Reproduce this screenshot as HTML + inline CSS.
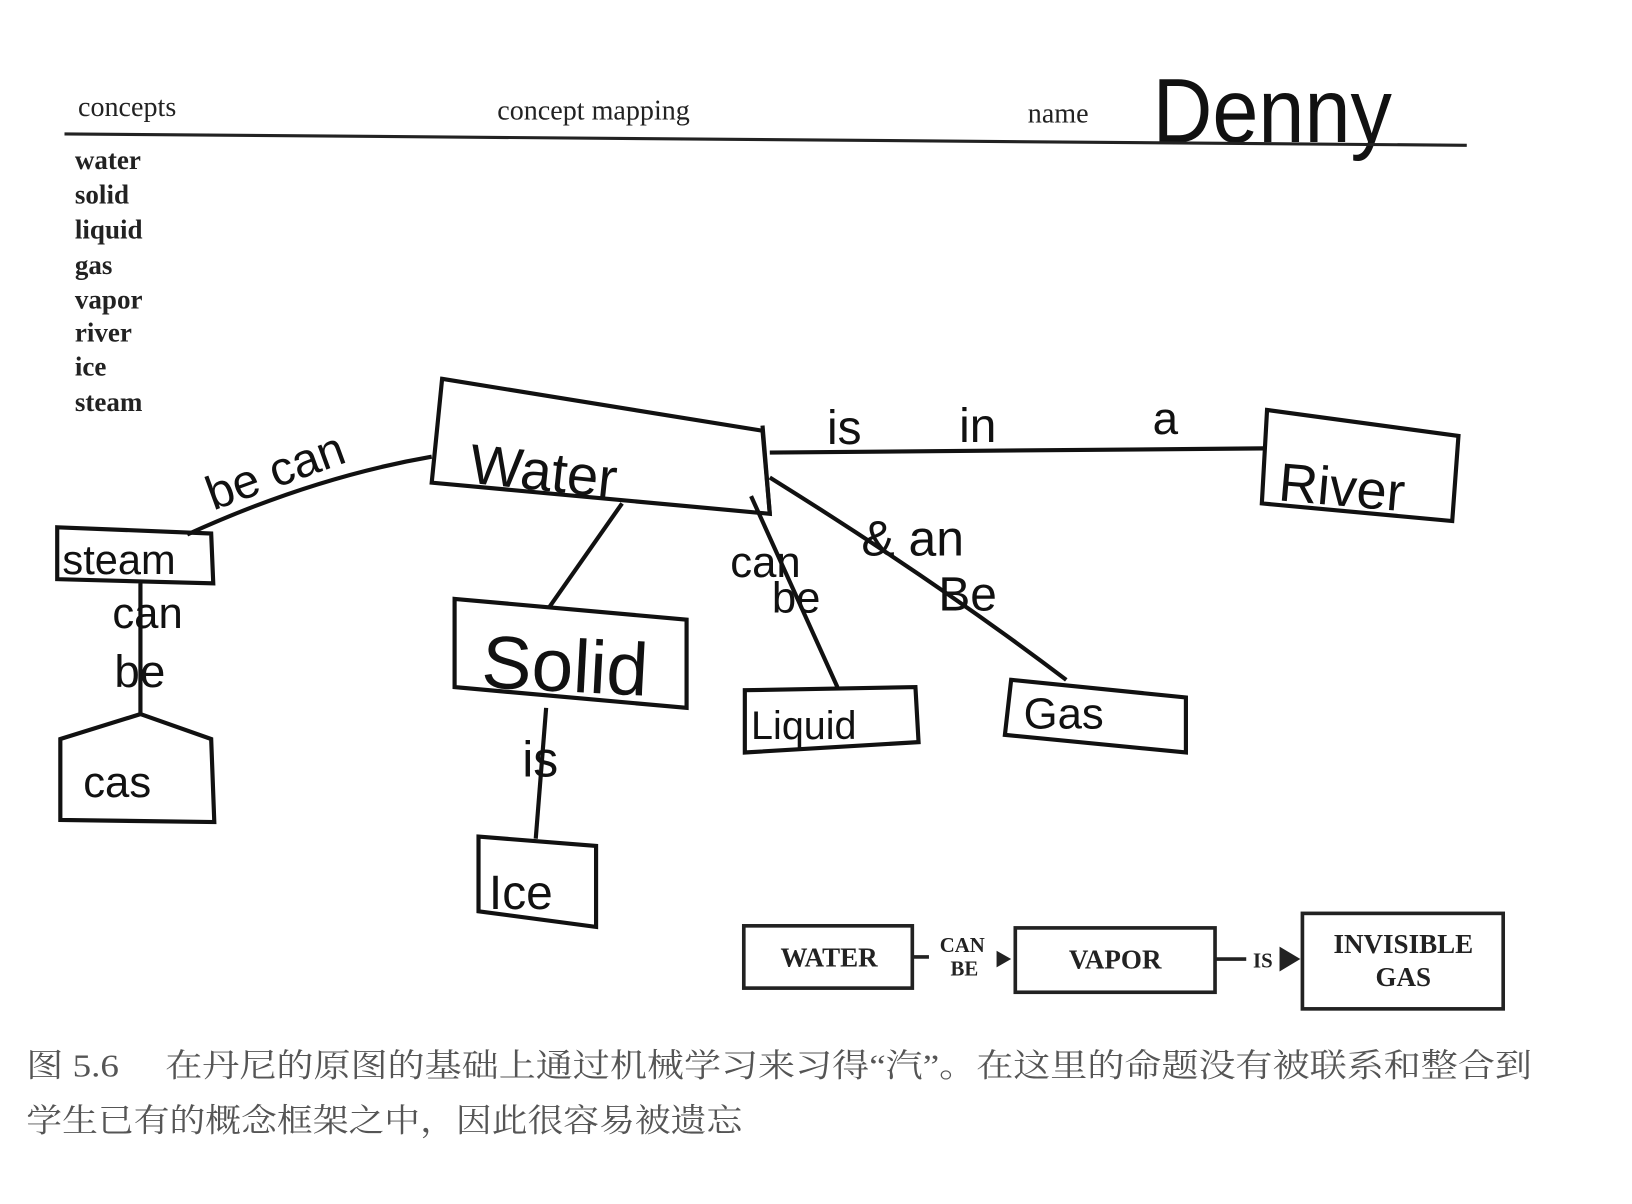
<!DOCTYPE html>
<html><head><meta charset="utf-8"><style>
html,body{margin:0;padding:0;background:#fff;}
svg{display:block;}
.hw{font-family:"Liberation Sans",sans-serif;fill:#111;}
.pr{font-family:"Liberation Serif",serif;font-weight:bold;fill:#222;}
</style></head><body>
<svg width="1632" height="1204" viewBox="0 0 1550 1160" preserveAspectRatio="none" xmlns="http://www.w3.org/2000/svg">
<rect width="1550" height="1160" fill="#fff"/>
<g transform="scale(0.988 1)">
<g class="pr" font-size="27">
<text x="75" y="112" font-weight="normal">concepts</text>
<text x="478" y="115" font-weight="normal">concept mapping</text>
<text x="988" y="118" font-weight="normal">name</text>
</g>
<text class="hw" x="1108" y="137" font-size="88" textLength="230" lengthAdjust="spacingAndGlyphs">Denny</text>
<line x1="62" y1="129" x2="1410" y2="140" stroke="#222" stroke-width="3"/>
<g class="pr" font-size="26">
<text x="72" y="163">water</text><text x="72" y="196">solid</text><text x="72" y="230">liquid</text>
<text x="72" y="264">gas</text><text x="72" y="297">vapor</text><text x="72" y="329">river</text>
<text x="72" y="362">ice</text><text x="72" y="396">steam</text>
</g>
<g fill="none" stroke="#111" stroke-width="4">
<polygon points="425,365 733,415 740,495 415,465"/>
<line x1="740" y1="436" x2="1215" y2="432"/>
<line x1="733" y1="410" x2="740" y2="495"/>
<polygon points="1218,395 1402,420 1396,502 1213,485"/>
<path d="M415,440 Q300,460 180,515"/>
<polygon points="55,508 203,514 205,562 55,558"/>
<line x1="135" y1="562" x2="135" y2="688"/>
<polygon points="58,712 135,688 203,712 206,792 58,790"/>
<line x1="598" y1="485" x2="528" y2="585"/>
<polygon points="437,577 660,597 660,682 437,662"/>
<line x1="525" y1="682" x2="515" y2="808"/>
<polygon points="460,806 573,815 573,893 460,878"/>
<line x1="722" y1="478" x2="805" y2="662"/>
<polygon points="716,665 880,662 883,715 716,725"/>
<path d="M740,460 Q900,560 1025,655"/>
<polygon points="972,655 1140,672 1140,725 966,708"/>
</g>
<g class="hw">
<text x="450" y="465" font-size="54" transform="rotate(6 450 465)">Water</text>
<text x="795" y="428" font-size="46">is</text>
<text x="922" y="426" font-size="46">in</text>
<text x="1108" y="418" font-size="44">a</text>
<text x="1228" y="482" font-size="52" transform="rotate(5 1228 482)">River</text>
<text x="205" y="492" font-size="46" transform="rotate(-20 205 492)">be can</text>
<text x="60" y="553" font-size="40">steam</text>
<text x="108" y="605" font-size="42">can</text>
<text x="110" y="662" font-size="44">be</text>
<text x="80" y="768" font-size="42">cas</text>
<text x="462" y="662" font-size="72" transform="rotate(3 462 662)">Solid</text>
<text x="502" y="748" font-size="48">is</text>
<text x="470" y="876" font-size="46">Ice</text>
<text x="702" y="556" font-size="42">can</text>
<text x="742" y="590" font-size="42">be</text>
<text x="722" y="712" font-size="38">Liquid</text>
<text x="828" y="535" font-size="48">&amp; an</text>
<text x="902" y="588" font-size="46">Be</text>
<text x="984" y="702" font-size="42">Gas</text>
</g>
<g fill="none" stroke="#222" stroke-width="3.5">
<rect x="715" y="892" width="162" height="60"/>
<rect x="976" y="894" width="192" height="62"/>
<rect x="1252" y="880" width="193" height="92"/>
<line x1="877" y1="922" x2="893" y2="922"/>
<line x1="1168" y1="924" x2="1198" y2="924"/>
</g>
<polygon points="958,916 972,924 958,932" fill="#222"/>
<polygon points="1230,912 1250,924 1230,936" fill="#222"/>
<g class="pr" text-anchor="middle">
<text x="797" y="931" font-size="26">WATER</text>
<text x="925" y="917" font-size="20">CAN</text>
<text x="927" y="940" font-size="20">BE</text>
<text x="1072" y="933" font-size="26">VAPOR</text>
<text x="1214" y="932" font-size="20">IS</text>
<text x="1349" y="918" font-size="26">INVISIBLE</text>
<text x="1349" y="950" font-size="26">GAS</text>
</g>
</g>
<g font-family="'Liberation Serif','Noto Serif CJK SC',serif" font-size="31" fill="#555">
<text x="25" y="1037" textLength="1430" lengthAdjust="spacingAndGlyphs">图 5.6　 在丹尼的原图的基础上通过机械学习来习得“汽”。在这里的命题没有被联系和整合到</text>
<text x="25" y="1090" textLength="680" lengthAdjust="spacingAndGlyphs">学生已有的概念框架之中，因此很容易被遗忘</text>
</g>
</svg>
</body></html>
